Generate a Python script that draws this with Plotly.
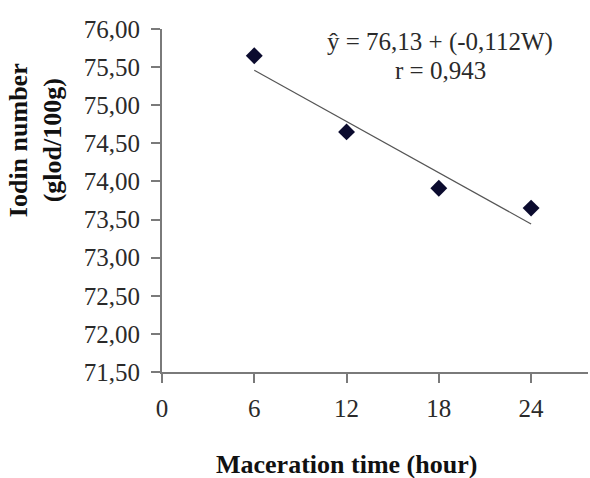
import plotly.graph_objects as go

# Maceration time (hours) and measured iodine number (g iodine / 100 g)
hours = [6, 12, 18, 24]
iodine = [75.65, 74.65, 73.91, 73.65]

# Linear regression reported on the chart
intercept = 76.13
slope = -0.112
r_value = 0.943

x_ticks = [0, 6, 12, 18, 24]
y_ticks = [71.5, 72.0, 72.5, 73.0, 73.5, 74.0, 74.5, 75.0, 75.5, 76.0]
y_tick_text = ["71,50", "72,00", "72,50", "73,00", "73,50",
               "74,00", "74,50", "75,00", "75,50", "76,00"]

serif = "Liberation Serif, Times New Roman, serif"

fit_x = [hours[0], hours[-1]]
fit_y = [intercept + slope * x for x in fit_x]

fig = go.Figure()
fig.add_trace(go.Scatter(
    x=fit_x, y=fit_y, mode="lines",
    line=dict(color="#555555", width=1.2),
    hoverinfo="skip", showlegend=False,
))
fig.add_trace(go.Scatter(
    x=hours, y=iodine, mode="markers",
    marker=dict(symbol="diamond", size=13, color="#0b0b2e",
                line=dict(width=0)),
    showlegend=False,
))

fig.update_layout(
    width=590, height=478,
    margin=dict(l=162, r=2, t=29, b=106),
    paper_bgcolor="white", plot_bgcolor="white",
    font=dict(family=serif, size=25, color="#2a2a2a"),
    xaxis=dict(
        range=[0, 27.7], tickvals=x_ticks, ticktext=[str(v) for v in x_ticks],
        showgrid=False, zeroline=False, showline=True,
        linecolor="#7a7a7a", linewidth=2,
        ticks="outside", ticklen=9, tickwidth=1.5, tickcolor="#7a7a7a",
        ticklabelstandoff=4,
    ),
    yaxis=dict(
        range=[71.5, 76.0], tickvals=y_ticks, ticktext=y_tick_text,
        showgrid=False, zeroline=False, showline=True,
        linecolor="#7a7a7a", linewidth=2,
        ticks="outside", ticklen=9, tickwidth=1.5, tickcolor="#7a7a7a",
        ticklabelstandoff=6,
    ),
    annotations=[
        dict(text=f"ŷ = {intercept:.2f} + ({slope:.3f}W)".replace(".", ","),
             xref="paper", yref="paper", x=0.653, y=0.962,
             xanchor="center", yanchor="middle", showarrow=False,
             font=dict(family=serif, size=25, color="#2a2a2a")),
        dict(text=f"r = {r_value:.3f}".replace(".", ","),
             xref="paper", yref="paper", x=0.653, y=0.88,
             xanchor="center", yanchor="middle", showarrow=False,
             font=dict(family=serif, size=25, color="#2a2a2a")),
        dict(text="<b>Iodin number</b><br><b>(glod/100g)</b>",
             xref="paper", yref="paper", x=-0.298, y=0.676,
             xanchor="center", yanchor="middle", showarrow=False,
             textangle=-90,
             font=dict(family=serif, size=26, color="#111111")),
        dict(text="<b>Maceration time (hour)</b>",
             xref="paper", yref="paper", x=0.434, y=-0.271,
             xanchor="center", yanchor="middle", showarrow=False,
             font=dict(family=serif, size=26, color="#111111")),
    ],
)

fig.write_html("out.html")
